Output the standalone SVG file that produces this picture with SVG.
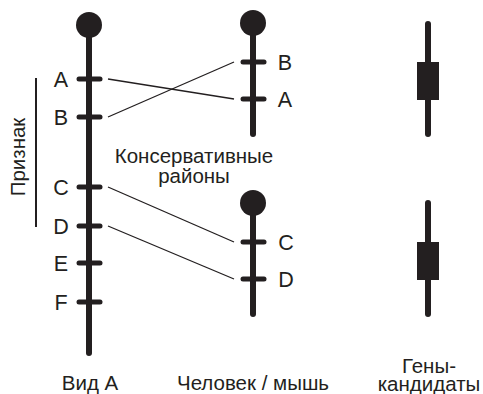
<svg xmlns="http://www.w3.org/2000/svg" width="483" height="394" viewBox="0 0 483 394">
<style>
.chr{stroke:#231f20;stroke-width:6;stroke-linecap:round;fill:none}
.tick{stroke:#231f20;stroke-width:5;stroke-linecap:round}
.cen{fill:#231f20}
.lnk{stroke:#231f20;stroke-width:1.3;fill:none}
text{font-family:"Liberation Sans",Arial,sans-serif;fill:#231f20;font-size:20.5px}
.lbl{font-size:21.5px}
</style>
<rect width="483" height="394" fill="#fff"/>
<g id="speciesA">
<line class="chr" x1="89" y1="25" x2="89" y2="353"/>
<circle class="cen" cx="89" cy="25" r="13"/>
<line class="tick" x1="79" y1="79" x2="100" y2="79"/>
<line class="tick" x1="79" y1="117" x2="100" y2="117"/>
<line class="tick" x1="79" y1="187" x2="100" y2="187"/>
<line class="tick" x1="79" y1="226" x2="100" y2="226"/>
<line class="tick" x1="79" y1="263" x2="100" y2="263"/>
<line class="tick" x1="79" y1="302" x2="100" y2="302"/>
<text class="lbl" x="61" y="87" text-anchor="middle">A</text>
<text class="lbl" x="61" y="125" text-anchor="middle">B</text>
<text class="lbl" x="61" y="195" text-anchor="middle">C</text>
<text class="lbl" x="61" y="234" text-anchor="middle">D</text>
<text class="lbl" x="61" y="271" text-anchor="middle">E</text>
<text class="lbl" x="61" y="310" text-anchor="middle">F</text>
<text x="90" y="390" text-anchor="middle">Вид А</text>
</g>
<g id="trait">
<line x1="36" y1="78" x2="36" y2="227" stroke="#231f20" stroke-width="2"/>
<text transform="translate(25,157) rotate(-90)" text-anchor="middle">Признак</text>
</g>
<g id="human1">
<line class="chr" x1="253" y1="23" x2="253" y2="134"/>
<circle class="cen" cx="253" cy="23" r="13"/>
<line class="tick" x1="243" y1="62" x2="264" y2="62"/>
<line class="tick" x1="243" y1="99" x2="264" y2="99"/>
<text class="lbl" x="285" y="70" text-anchor="middle">B</text>
<text class="lbl" x="285" y="107" text-anchor="middle">A</text>
</g>
<g id="human2">
<line class="chr" x1="253" y1="203" x2="253" y2="314"/>
<circle class="cen" cx="253" cy="203" r="13"/>
<line class="tick" x1="243" y1="242" x2="264" y2="242"/>
<line class="tick" x1="243" y1="279" x2="264" y2="279"/>
<text class="lbl" x="286" y="250" text-anchor="middle">C</text>
<text class="lbl" x="286" y="287" text-anchor="middle">D</text>
<text x="253" y="390" text-anchor="middle">Человек / мышь</text>
</g>
<g id="conserved">
<text x="194" y="163" text-anchor="middle">Консервативные</text>
<text x="194" y="183" text-anchor="middle">районы</text>
</g>
<g id="gene1">
<line class="chr" x1="428" y1="24" x2="428" y2="134"/>
<rect class="cen" x="417" y="62" width="22" height="38"/>
</g>
<g id="gene2">
<line class="chr" x1="428" y1="203" x2="428" y2="314"/>
<rect class="cen" x="417" y="242" width="22" height="38"/>
<text x="429" y="373" text-anchor="middle">Гены-</text>
<text x="429" y="391" text-anchor="middle">кандидаты</text>
</g>
<g id="connectors">
<line class="lnk" x1="108" y1="79" x2="234" y2="99"/>
<line class="lnk" x1="108" y1="117" x2="234" y2="62"/>
<line class="lnk" x1="108" y1="187" x2="234" y2="242"/>
<line class="lnk" x1="108" y1="226" x2="234" y2="279"/>
</g>
</svg>
